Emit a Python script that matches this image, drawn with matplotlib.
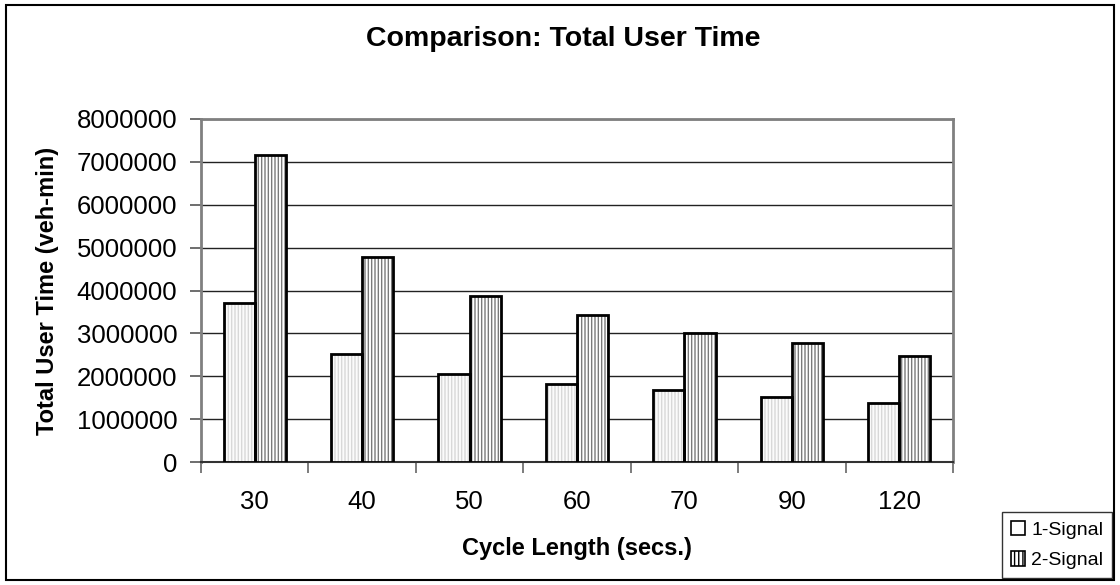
import numpy as np
import matplotlib.pyplot as plt
from matplotlib.patches import Patch, Rectangle

plt.rcParams['font.family'] = ['Liberation Sans', 'DejaVu Sans']

# data
cycles = ['30', '40', '50', '60', '70', '90', '120']
one_signal = [3700000, 2520000, 2050000, 1830000, 1690000, 1510000, 1370000]
two_signal = [7150000, 4780000, 3870000, 3420000, 3000000, 2780000, 2470000]
y_ticks = [0, 1000000, 2000000, 3000000, 4000000, 5000000, 6000000, 7000000, 8000000]

fig = plt.figure(figsize=(11.2, 5.85), dpi=100)
ax = fig.add_axes([201 / 1120, 1 - 462 / 585, (953 - 201) / 1120, (462 - 119) / 585])

x = np.arange(len(cycles))
w = 0.29

# hatched fill first, then black outline on top
ax.bar(x - w / 2, one_signal, w, color='#fbfbfb', edgecolor='#d8d8d8', hatch='|||||', linewidth=0, zorder=3)
ax.bar(x + w / 2, two_signal, w, color='white', edgecolor='#7a7a7a', hatch='|||||', linewidth=0, zorder=3)
ax.bar(x - w / 2, one_signal, w, fill=False, edgecolor='black', linewidth=2, zorder=4)
ax.bar(x + w / 2, two_signal, w, fill=False, edgecolor='black', linewidth=2, zorder=4)

ax.set_xlim(-0.5, len(cycles) - 0.5)
ax.set_ylim(0, 8000000)
ax.set_yticks(y_ticks)
ax.set_yticklabels([str(v) for v in y_ticks], fontsize=18.5)
ax.set_xticks(x)
ax.set_xticklabels(cycles, fontsize=18.5)
ax.set_xticks(np.arange(len(cycles) + 1) - 0.5, minor=True)
ax.tick_params(axis='x', which='major', length=0, pad=20)
ax.tick_params(axis='x', which='minor', length=8, width=1.2, color='#666666', direction='out')
ax.tick_params(axis='y', length=8, width=1.2, color='#555555', direction='out', pad=9)

ax.yaxis.grid(True, color='#222222', linewidth=1)
ax.set_axisbelow(True)

for s in ['top', 'right', 'left']:
    ax.spines[s].set_color('#808080')
    ax.spines[s].set_linewidth(2)
ax.spines['bottom'].set_color('#333333')
ax.spines['bottom'].set_linewidth(1.5)

ax.set_xlabel('Cycle Length (secs.)', fontsize=17, fontweight='bold')
ax.set_ylabel('Total User Time (veh-min)', fontsize=17, fontweight='bold')
ax.xaxis.set_label_coords(0.5, (462 - 548) / 343)
ax.yaxis.set_label_coords((48 - 201) / 752, 0.5)
ax.xaxis.label.set_va('center')
ax.yaxis.label.set_va('center')
fig.text(563 / 1120, 1 - 39 / 585, 'Comparison: Total User Time', fontsize=20.5, fontweight='bold',
         ha='center', va='center')

handles = [Patch(facecolor='white', edgecolor='black', linewidth=1.2, label='1-Signal'),
           Patch(facecolor='white', edgecolor='black', linewidth=1.2, hatch='||||', label='2-Signal')]
leg = fig.legend(handles=handles, loc='lower right', bbox_to_anchor=(1112 / 1120, 7 / 585),
                 fontsize=14, frameon=True, fancybox=False, edgecolor='black',
                 handlelength=0.75, handleheight=0.75, handletextpad=0.3, borderpad=0.45,
                 labelspacing=0.65, borderaxespad=0)
leg.get_frame().set_linewidth(1)

fig.patches.append(Rectangle((6 / 1120, 5 / 585), 1108 / 1120, 575 / 585, transform=fig.transFigure,
                             fill=False, edgecolor='black', linewidth=1.5))

fig.savefig('out.png', dpi=100)
